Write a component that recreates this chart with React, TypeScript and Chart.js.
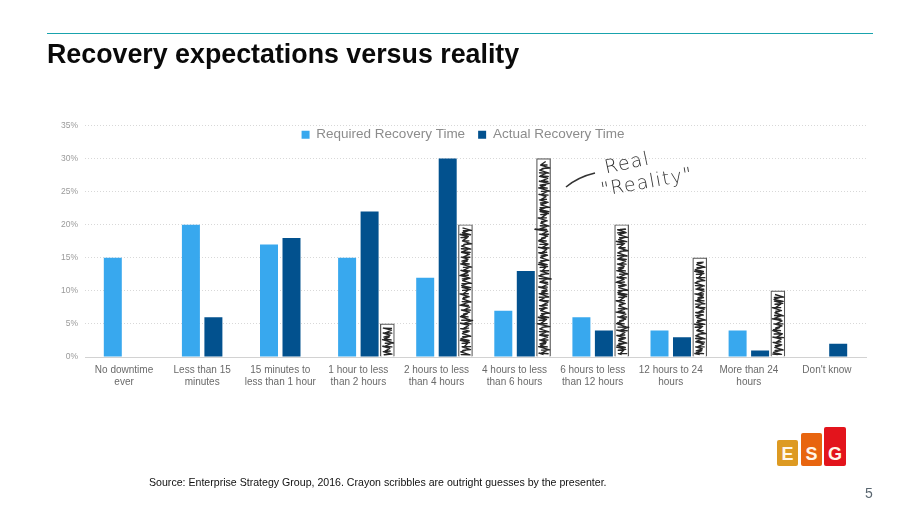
import React, { useEffect, useRef } from "react";
import { Chart, registerables } from "chart.js";

Chart.register(...registerables);

const categories = [
  ["No downtime", "ever"],
  ["Less than 15", "minutes"],
  ["15 minutes to", "less than 1 hour"],
  ["1 hour to less", "than 2 hours"],
  ["2 hours to less", "than 4 hours"],
  ["4 hours to less", "than 6 hours"],
  ["6 hours to less", "than 12 hours"],
  ["12 hours to 24", "hours"],
  ["More than 24", "hours"],
  ["Don't know"],
];
const requiredValues = [15, 20, 17, 15, 12, 7, 6, 4, 4, null];
const actualValues = [null, 6, 18, 22, 30, 13, 4, 3, 1, 2];
const guessedValues = [null, null, null, 5, 20, 30, 20, 15, 10, null];
const yTicks = [0, 5, 10, 15, 20, 25, 30, 35];
const scribbleJitter = [0.9, -0.6, 1.4, 0.2, -1.1, 0.7, 1.8, -0.3, -1.5, 0.4, 1.1, -0.8, 0.1, 2.2, -0.5, -1.9, 0.6, 1.3, -1.2, 0.3, 1.6, -1.4, 0.5];

const FONT = "'Liberation Sans', Arial, sans-serif";
const GUESS_SHIFT = 29;

const scribblePlugin = {
  id: "scribble",
  afterDatasetsUpdate(chart: any) {
    chart.getDatasetMeta(2).data.forEach((el: any) => {
      el.x += GUESS_SHIFT;
    });
  },
  afterLayout(chart: any) {
    const legend = chart.legend;
    legend.top += 26;
    legend.bottom += 26;
    legend.left += 30;
    legend.right += 30;
  },
  afterDatasetsDraw(chart: any) {
    const { ctx } = chart;
    chart.getDatasetMeta(2).data.forEach((el: any, i: number) => {
      const v = guessedValues[i];
      if (v == null) return;
      const half = el.width / 2 - 3;
      ctx.save();
      ctx.strokeStyle = "#262626";
      ctx.lineWidth = 1.35;
      ctx.lineJoin = "round";
      ctx.beginPath();
      let y = el.base - 2;
      let side = -1;
      let k = i * 3;
      ctx.moveTo(el.x, y);
      while (y > el.y + 3) {
        const j = scribbleJitter[k % scribbleJitter.length];
        const spike = k % 41 === 0 && v >= 20 ? 3 : 0;
        const wave = scribbleJitter[Math.floor(k / 3) % scribbleJitter.length];
        ctx.lineTo(el.x + side * (half * 0.9 + spike) + j * 0.8 + wave * 0.7, y + j * 0.7);
        y -= 1.15;
        side = -side;
        k += 1;
      }
      ctx.stroke();
      ctx.restore();
    });
  },
};

export default function App() {
  const ref = useRef<HTMLCanvasElement>(null);
  useEffect(() => {
    const chart = new Chart(ref.current!, {
      type: "bar",
      data: {
        labels: categories as any,
        datasets: [
          { label: "Required Recovery Time", data: requiredValues, backgroundColor: "#38a8ee", order: 2 },
          { label: "Actual Recovery Time", data: actualValues, backgroundColor: "#02518e", order: 2 },
          {
            label: "Guess",
            data: guessedValues,
            backgroundColor: "#ffffff",
            borderColor: "#555555",
            borderWidth: 1.2,
            grouped: false,
            barThickness: 14,
            order: 1,
          } as any,
        ],
      },
      plugins: [scribblePlugin],
      options: {
        responsive: false,
        animation: false,
        layout: { autoPadding: false, padding: { top: 89, right: 54, bottom: 0, left: 0 } },
        datasets: { bar: { categoryPercentage: 0.576, barPercentage: 0.8 } },
        plugins: {
          title: { display: false },
          tooltip: { enabled: false },
          legend: {
            display: true,
            position: "top",
            labels: {
              filter: (item: any) => item.datasetIndex < 2,
              boxWidth: 8,
              boxHeight: 8,
              padding: 13,
              color: "#8c8c8c",
              font: { family: FONT, size: 13.5 },
            },
          },
        },
        scales: {
          x: {
            afterFit: (s: any) => { s.height = 161; },
            grid: { display: false, drawTicks: false },
            border: { color: "#d2d2d2" },
            ticks: {
              color: "#6a6a6a",
              font: { family: FONT, size: 10, lineHeight: 1.2 },
              padding: 7,
              maxRotation: 0,
              autoSkip: false,
            },
          },
          y: {
            min: 0,
            max: 35,
            afterFit: (s: any) => { s.width = 85; },
            afterBuildTicks: (s: any) => { s.ticks = yTicks.map((value) => ({ value })); },
            grid: { color: "#d8d8d8", lineWidth: 1, drawTicks: false },
            border: { display: false, dash: [1, 2] },
            ticks: {
              color: "#9a9a9a",
              font: { family: FONT, size: 8.5 },
              padding: 7,
              callback: (v: any) => `${v}%`,
            },
          },
        },
      },
    } as any);
    return () => chart.destroy();
  }, []);

  const abs = (o: React.CSSProperties): React.CSSProperties => ({ position: "absolute", fontFamily: FONT, whiteSpace: "nowrap", ...o });
  const hand: React.CSSProperties = { fontFamily: "'DejaVu Sans', sans-serif", fontWeight: 200, color: "#333", letterSpacing: "1.2px" };
  const logoBar = (left: number, top: number, w: number, bg: string, ch: string) => (
    <div style={abs({ left, top, width: w, height: 466 - top, background: bg, borderRadius: 2 })}>
      <div style={abs({ left: 0, right: 0, bottom: 3, textAlign: "center", color: "#fff6ea", fontWeight: 700, fontSize: 18, lineHeight: "18px" })}>{ch}</div>
    </div>
  );

  return (
    <div style={{ position: "absolute", left: 0, top: 0, width: 920, height: 518, background: "#fff", overflow: "hidden" }}>
      <canvas ref={ref} width={920} height={518} style={{ position: "absolute", left: 0, top: 0, display: "block" }} />
      <div style={abs({ left: 47, top: 33, width: 826, height: 1, background: "#19a3ad" })} />
      <div style={abs({ left: 47, top: 38, fontSize: 26.8, fontWeight: 700, color: "#0a0a0a", lineHeight: "32px" })}>Recovery expectations versus reality</div>
      <div style={abs({ left: 149, top: 475, fontSize: 10.6, color: "#111", lineHeight: "14px" })}>Source: Enterprise Strategy Group, 2016. Crayon scribbles are outright guesses by the presenter.</div>
      <div style={abs({ left: 865, top: 485, fontSize: 14, color: "#5a6670", lineHeight: "16px" })}>5</div>
      {logoBar(777, 440, 21, "#dd9a22", "E")}
      {logoBar(801, 433, 21, "#e8650f", "S")}
      {logoBar(824, 427, 22, "#e3141c", "G")}
      <svg style={{ position: "absolute", left: 0, top: 0 }} width={920} height={518}>
        <path d="M566 187 Q578 177 595 173" stroke="#333" strokeWidth={1.6} fill="none" />
      </svg>
      <div style={abs({ ...hand, left: 604, top: 151, fontSize: 19, lineHeight: "22px", transform: "rotate(-12deg)" })}>Real</div>
      <div style={abs({ ...hand, left: 600, top: 170, fontSize: 19, lineHeight: "22px", transform: "rotate(-10deg)" })}>"Reality"</div>
    </div>
  );
}
